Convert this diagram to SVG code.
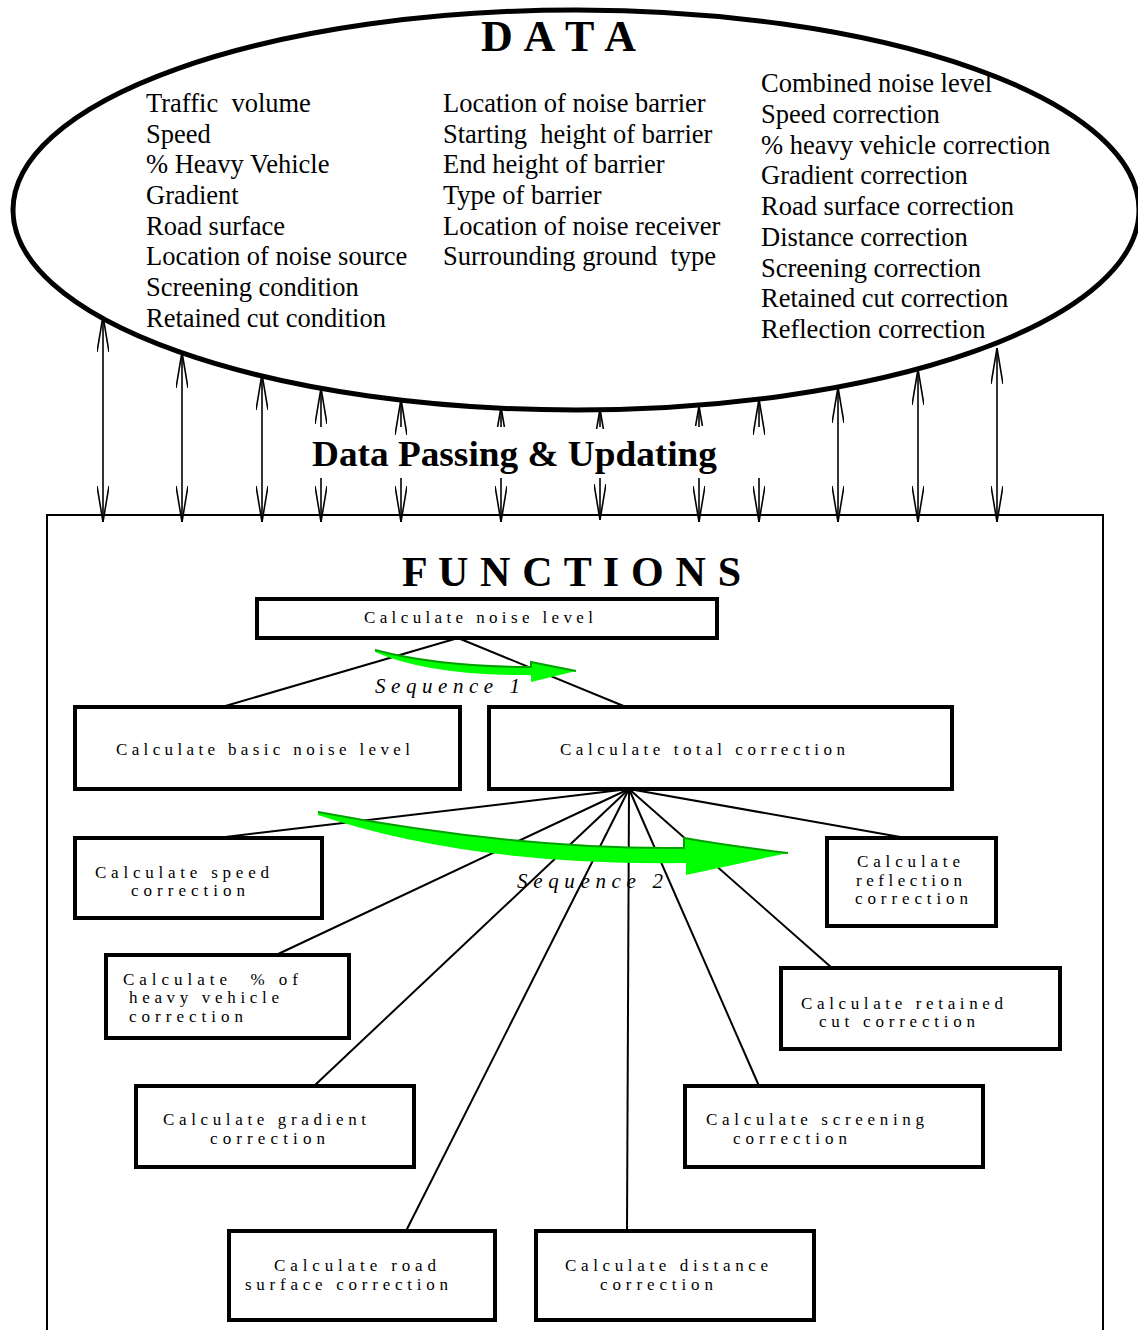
<svg xmlns="http://www.w3.org/2000/svg" width="1138" height="1330" viewBox="0 0 1138 1330">
<style>
  .lst { font-family: "Liberation Serif", "Times New Roman", serif; font-size: 26.5px; fill: #000; }
  .ttl { font-family: "Liberation Serif", "Times New Roman", serif; font-weight: bold; fill: #000; }
  .nt { font-family: "Liberation Serif", "Times New Roman", serif; font-size: 17px; fill: #000; }
  .seq { font-family: "Liberation Serif", "Times New Roman", serif; font-size: 21px; font-style: italic; fill: #000; }
  .box { fill: #fff; stroke: #000; stroke-width: 4; }
  .arr { stroke: #000; stroke-width: 1.6; fill: none; }
  .ln { stroke: #000; stroke-width: 2; fill: none; }
  .green { fill: #00ff00; }
  .gedge { fill: none; stroke: #00a000; stroke-width: 2; }
</style>
<defs>
  <marker id="ah" viewBox="0 0 36 12" refX="36" refY="6" markerWidth="36" markerHeight="12" markerUnits="userSpaceOnUse" orient="auto">
    <path d="M0,0 L36,6 L0,12" fill="none" stroke="#000" stroke-width="1.6"/>
  </marker>
  <marker id="ahs" viewBox="0 0 20 12" refX="20" refY="6" markerWidth="20" markerHeight="12" markerUnits="userSpaceOnUse" orient="auto">
    <path d="M0,2.6 L20,6 L0,9.4" fill="none" stroke="#000" stroke-width="1.6"/>
  </marker>
</defs>
<rect x="0" y="0" width="1138" height="1330" fill="#fff"/>

<g id="functions-frame">
  <rect x="47" y="515" width="1056" height="830" fill="#fff" stroke="#000" stroke-width="2"/>
  <text class="ttl" x="402" y="586" font-size="42" textLength="339" lengthAdjust="spacing">F U N C T I O N S</text>
</g>

<g id="data-store">
  <ellipse cx="576" cy="210" rx="563" ry="200" fill="#fff" stroke="#000" stroke-width="5"/>
  <text class="ttl" x="481" y="51" font-size="44" textLength="155" lengthAdjust="spacing">D A T A</text>
  <g class="lst">
    <text x="146" y="112" xml:space="preserve">Traffic  volume</text>
    <text x="146" y="142.6">Speed</text>
    <text x="146" y="173.3">% Heavy Vehicle</text>
    <text x="146" y="204">Gradient</text>
    <text x="146" y="234.6">Road surface</text>
    <text x="146" y="265.3">Location of noise source</text>
    <text x="146" y="296">Screening condition</text>
    <text x="146" y="326.6">Retained cut condition</text>
    <text x="443" y="112">Location of noise barrier</text>
    <text x="443" y="142.6" xml:space="preserve">Starting  height of barrier</text>
    <text x="443" y="173.3">End height of barrier</text>
    <text x="443" y="204">Type of barrier</text>
    <text x="443" y="234.6">Location of noise receiver</text>
    <text x="443" y="265.3" xml:space="preserve">Surrounding ground  type</text>
    <text x="761" y="92">Combined noise level</text>
    <text x="761" y="122.75">Speed correction</text>
    <text x="761" y="153.5">% heavy vehicle correction</text>
    <text x="761" y="184.25">Gradient correction</text>
    <text x="761" y="215">Road surface correction</text>
    <text x="761" y="245.75">Distance correction</text>
    <text x="761" y="276.5">Screening correction</text>
    <text x="761" y="307.25">Retained cut correction</text>
    <text x="761" y="338">Reflection correction</text>
  </g>
</g>

<g id="connectors">
  <g class="arr">
    <line x1="103" y1="420" x2="103" y2="316" marker-end="url(#ah)"/>
    <line x1="103" y1="420" x2="103" y2="522" marker-end="url(#ah)"/>
    <line x1="182" y1="430" x2="182" y2="352" marker-end="url(#ah)"/>
    <line x1="182" y1="430" x2="182" y2="522" marker-end="url(#ah)"/>
    <line x1="262" y1="440" x2="262" y2="374" marker-end="url(#ah)"/>
    <line x1="262" y1="440" x2="262" y2="522" marker-end="url(#ah)"/>
    <line x1="838" y1="440" x2="838" y2="387" marker-end="url(#ah)"/>
    <line x1="838" y1="440" x2="838" y2="522" marker-end="url(#ah)"/>
    <line x1="918" y1="440" x2="918" y2="369" marker-end="url(#ah)"/>
    <line x1="918" y1="440" x2="918" y2="522" marker-end="url(#ah)"/>
    <line x1="997" y1="430" x2="997" y2="348" marker-end="url(#ah)"/>
    <line x1="997" y1="430" x2="997" y2="522" marker-end="url(#ah)"/>
    <line x1="321" y1="427" x2="321" y2="388" marker-end="url(#ah)"/>
    <line x1="321" y1="478" x2="321" y2="522" marker-end="url(#ah)"/>
    <line x1="401" y1="427" x2="401" y2="399" marker-end="url(#ah)"/>
    <line x1="401" y1="478" x2="401" y2="522" marker-end="url(#ah)"/>
    <line x1="759" y1="427" x2="759" y2="399" marker-end="url(#ah)"/>
    <line x1="759" y1="478" x2="759" y2="522" marker-end="url(#ah)"/>
    <line x1="501" y1="427" x2="501" y2="407" marker-end="url(#ahs)"/>
    <line x1="501" y1="478" x2="501" y2="522" marker-end="url(#ah)"/>
    <line x1="600" y1="427" x2="600" y2="409" marker-end="url(#ahs)"/>
    <line x1="600" y1="478" x2="600" y2="520" marker-end="url(#ah)"/>
    <line x1="699" y1="427" x2="699" y2="406" marker-end="url(#ahs)"/>
    <line x1="699" y1="478" x2="699" y2="522" marker-end="url(#ah)"/>
  </g>
  <g class="ln">
    <line x1="458" y1="638" x2="222" y2="707"/>
    <line x1="458" y1="638" x2="626" y2="707"/>
    <line x1="629" y1="789" x2="217" y2="838"/>
    <line x1="629" y1="789" x2="276" y2="955"/>
    <line x1="629" y1="789" x2="314" y2="1086"/>
    <line x1="629" y1="789" x2="406" y2="1231"/>
    <line x1="629" y1="789" x2="627" y2="1231"/>
    <line x1="629" y1="789" x2="759" y2="1086"/>
    <line x1="629" y1="789" x2="832" y2="968"/>
    <line x1="629" y1="789" x2="906" y2="838"/>
  </g>
</g>

<text class="ttl" x="312" y="466" font-size="36" textLength="405" lengthAdjust="spacingAndGlyphs">Data Passing &amp; Updating</text>

<g id="sequence-1">
  <path class="green" d="M375,650 Q440,667 531,667 L531,662 L576,671 L531,682 L531,675 Q430,676 375,652 Z"/>
  <path class="gedge" d="M375,650 Q440,667 531,667 L531,662 L576,671"/>
  <text class="seq" x="375" y="693" textLength="145" lengthAdjust="spacing">Sequence 1</text>
</g>

<g id="sequence-2">
  <path class="green" d="M318,812 Q520,850 684,848 L684,838 Q730,846 788,853 L686,875 L686,863 Q470,866 318,815 Z"/>
  <path class="gedge" d="M318,812 Q520,850 684,848 L684,838 Q730,846 788,853"/>
  <text class="seq" x="517" y="888" textLength="146" lengthAdjust="spacing">Sequence 2</text>
</g>

<g id="node-noise-level">
  <rect class="box" x="257" y="599" width="460" height="39" stroke-width="3.5"/>
  <text class="nt" x="364" y="623" font-size="19" textLength="229" lengthAdjust="spacing">Calculate noise level</text>
</g>
<g id="node-basic">
  <rect class="box" x="75" y="707" width="385" height="82"/>
  <text class="nt" x="116" y="755" font-size="19" textLength="294" lengthAdjust="spacing">Calculate basic noise level</text>
</g>
<g id="node-total">
  <rect class="box" x="489" y="707" width="463" height="82"/>
  <text class="nt" x="560" y="755" font-size="19" textLength="285" lengthAdjust="spacing">Calculate total correction</text>
</g>
<g id="node-speed">
  <rect class="box" x="75" y="838" width="247" height="80"/>
  <text class="nt" x="95" y="878" textLength="174" lengthAdjust="spacing">Calculate speed</text>
  <text class="nt" x="131" y="896" textLength="114" lengthAdjust="spacing">correction</text>
</g>
<g id="node-heavy">
  <rect class="box" x="106" y="955" width="243" height="83"/>
  <text class="nt" x="123" y="985" textLength="175" lengthAdjust="spacing" xml:space="preserve">Calculate  % of</text>
  <text class="nt" x="129" y="1003" textLength="150" lengthAdjust="spacing">heavy vehicle</text>
  <text class="nt" x="129" y="1022" textLength="114" lengthAdjust="spacing">correction</text>
</g>
<g id="node-gradient">
  <rect class="box" x="136" y="1086" width="278" height="81"/>
  <text class="nt" x="163" y="1125" textLength="203" lengthAdjust="spacing">Calculate gradient</text>
  <text class="nt" x="210" y="1144" textLength="115" lengthAdjust="spacing">correction</text>
</g>
<g id="node-road">
  <rect class="box" x="229" y="1231" width="266" height="89"/>
  <text class="nt" x="274" y="1271" textLength="162" lengthAdjust="spacing">Calculate road</text>
  <text class="nt" x="245" y="1290" textLength="203" lengthAdjust="spacing">surface correction</text>
</g>
<g id="node-distance">
  <rect class="box" x="536" y="1231" width="278" height="89"/>
  <text class="nt" x="565" y="1271" textLength="203" lengthAdjust="spacing">Calculate distance</text>
  <text class="nt" x="600" y="1290" textLength="113" lengthAdjust="spacing">correction</text>
</g>
<g id="node-screening">
  <rect class="box" x="685" y="1086" width="298" height="81"/>
  <text class="nt" x="706" y="1125" textLength="218" lengthAdjust="spacing">Calculate screening</text>
  <text class="nt" x="733" y="1144" textLength="114" lengthAdjust="spacing">correction</text>
</g>
<g id="node-retained">
  <rect class="box" x="781" y="968" width="279" height="81"/>
  <text class="nt" x="801" y="1009" textLength="202" lengthAdjust="spacing">Calculate retained</text>
  <text class="nt" x="819" y="1027" textLength="156" lengthAdjust="spacing">cut correction</text>
</g>
<g id="node-reflection">
  <rect class="box" x="827" y="838" width="169" height="88"/>
  <text class="nt" x="857" y="867" textLength="103" lengthAdjust="spacing">Calculate</text>
  <text class="nt" x="856" y="886" textLength="106" lengthAdjust="spacing">reflection</text>
  <text class="nt" x="855" y="904" textLength="113" lengthAdjust="spacing">correction</text>
</g>
</svg>
